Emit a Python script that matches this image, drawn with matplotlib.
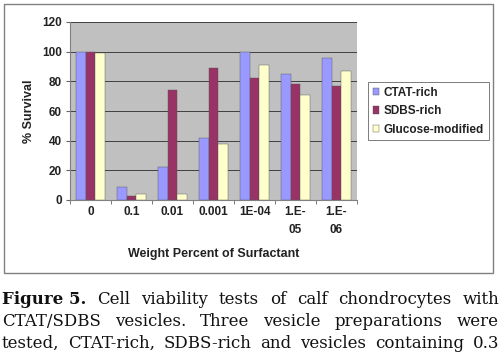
import matplotlib
matplotlib.use('Agg')
import matplotlib.pyplot as plt
import numpy as np
from matplotlib.patches import Rectangle

categories = ['0', '0.1', '0.01', '0.001', '1E-04', '1.E-\n05', '1.E-\n06']
ctat = [100, 9, 22, 42, 100, 85, 96]
sdbs = [100, 3, 74, 89, 82, 78, 77]
glucose = [99, 4, 4, 38, 91, 71, 87]
series_names = ['CTAT-rich', 'SDBS-rich', 'Glucose-modified']
colors = ['#9999ff', '#993366', '#ffffcc']

caption_lines = [
    [('Figure 5.', 'bold'), ('Cell', 'normal'), ('viability', 'normal'), ('tests', 'normal'),
     ('of', 'normal'), ('calf', 'normal'), ('chondrocytes', 'normal'), ('with', 'normal')],
    [('CTAT/SDBS', 'normal'), ('vesicles.', 'normal'), ('Three', 'normal'), ('vesicle', 'normal'),
     ('preparations', 'normal'), ('were', 'normal')],
    [('tested,', 'normal'), ('CTAT-rich,', 'normal'), ('SDBS-rich', 'normal'), ('and', 'normal'),
     ('vesicles', 'normal'), ('containing', 'normal'), ('0.3', 'normal')],
]
caption_baselines = [304, 326, 348]

W, H = 500, 353
fig = plt.figure(figsize=(W / 100, H / 100), dpi=100)
fig.patch.set_facecolor('white')

# chart frame
fig.patches.append(Rectangle((4 / W, 1 - 273 / H), 489 / W, 269 / H, transform=fig.transFigure,
                             fill=False, edgecolor='#808080', linewidth=1.0))

font = {'family': 'Liberation Sans', 'weight': 'bold', 'color': '#222222'}

ax = fig.add_axes([70 / W, 1 - 200 / H, 287 / W, 178 / H])
ax.set_facecolor('#c0c0c0')
x = np.arange(len(categories))
w = 0.23
for i, (vals, name, c) in enumerate(zip([ctat, sdbs, glucose], series_names, colors)):
    ax.bar(x + (i - 1) * w, vals, w, color=c, edgecolor='#555555', linewidth=0.3, label=name, zorder=3)

ax.set_xlim(-0.5, len(categories) - 0.5)
ax.set_ylim(0, 120)
ax.set_yticks(range(0, 121, 20))
ax.yaxis.grid(True, color='#404040', linewidth=0.7, zorder=0)
ax.set_axisbelow(True)
ax.set_xticks(x)
ax.set_xticklabels(categories, fontsize=8.5, linespacing=1.7, **font)
ax.set_xticks(np.arange(-0.5, len(categories), 1), minor=True)
ax.tick_params(axis='x', which='major', length=0, pad=4)
ax.tick_params(axis='x', which='minor', length=3, color='#666666')
ax.set_yticklabels([str(v) for v in range(0, 121, 20)], fontsize=8.5, **font)
ax.tick_params(axis='y', length=3, color='#666666', pad=3)
for s in ['top', 'right']:
    ax.spines[s].set_visible(False)
for s in ['left', 'bottom']:
    ax.spines[s].set_color('#808080')
    ax.spines[s].set_linewidth(0.8)

ax.set_xlabel('Weight Percent of Surfactant', fontsize=9, labelpad=9, **font)
ax.set_ylabel('% Survival', fontsize=9, labelpad=5, **font)

leg = fig.legend(loc='upper left', bbox_to_anchor=(368 / W, 1 - 82 / H), frameon=True,
                 prop={'family': 'Liberation Sans', 'weight': 'bold', 'size': 8.5},
                 handlelength=0.55, handleheight=0.55, handletextpad=0.4, borderpad=0.4,
                 labelspacing=0.55, fancybox=False, borderaxespad=0)
leg.get_frame().set_edgecolor('#404040')
leg.get_frame().set_linewidth(0.6)
for t in leg.get_texts():
    t.set_color('#222222')

# justified caption
fig.canvas.draw()
renderer = fig.canvas.get_renderer()
x0, x1 = 2, 499
for words, yb in zip(caption_lines, caption_baselines):
    texts = [fig.text(0, 1 - yb / H, wd, fontsize=12, fontweight=wt, family='DejaVu Serif',
                      color='#111111', va='baseline', ha='left') for wd, wt in words]
    widths = [t.get_window_extent(renderer).width for t in texts]
    gap = (x1 - x0 - sum(widths)) / (len(texts) - 1)
    pos = x0
    for t, wd in zip(texts, widths):
        t.set_x(pos / W)
        pos += wd + gap

fig.savefig('out.png', dpi=100)
